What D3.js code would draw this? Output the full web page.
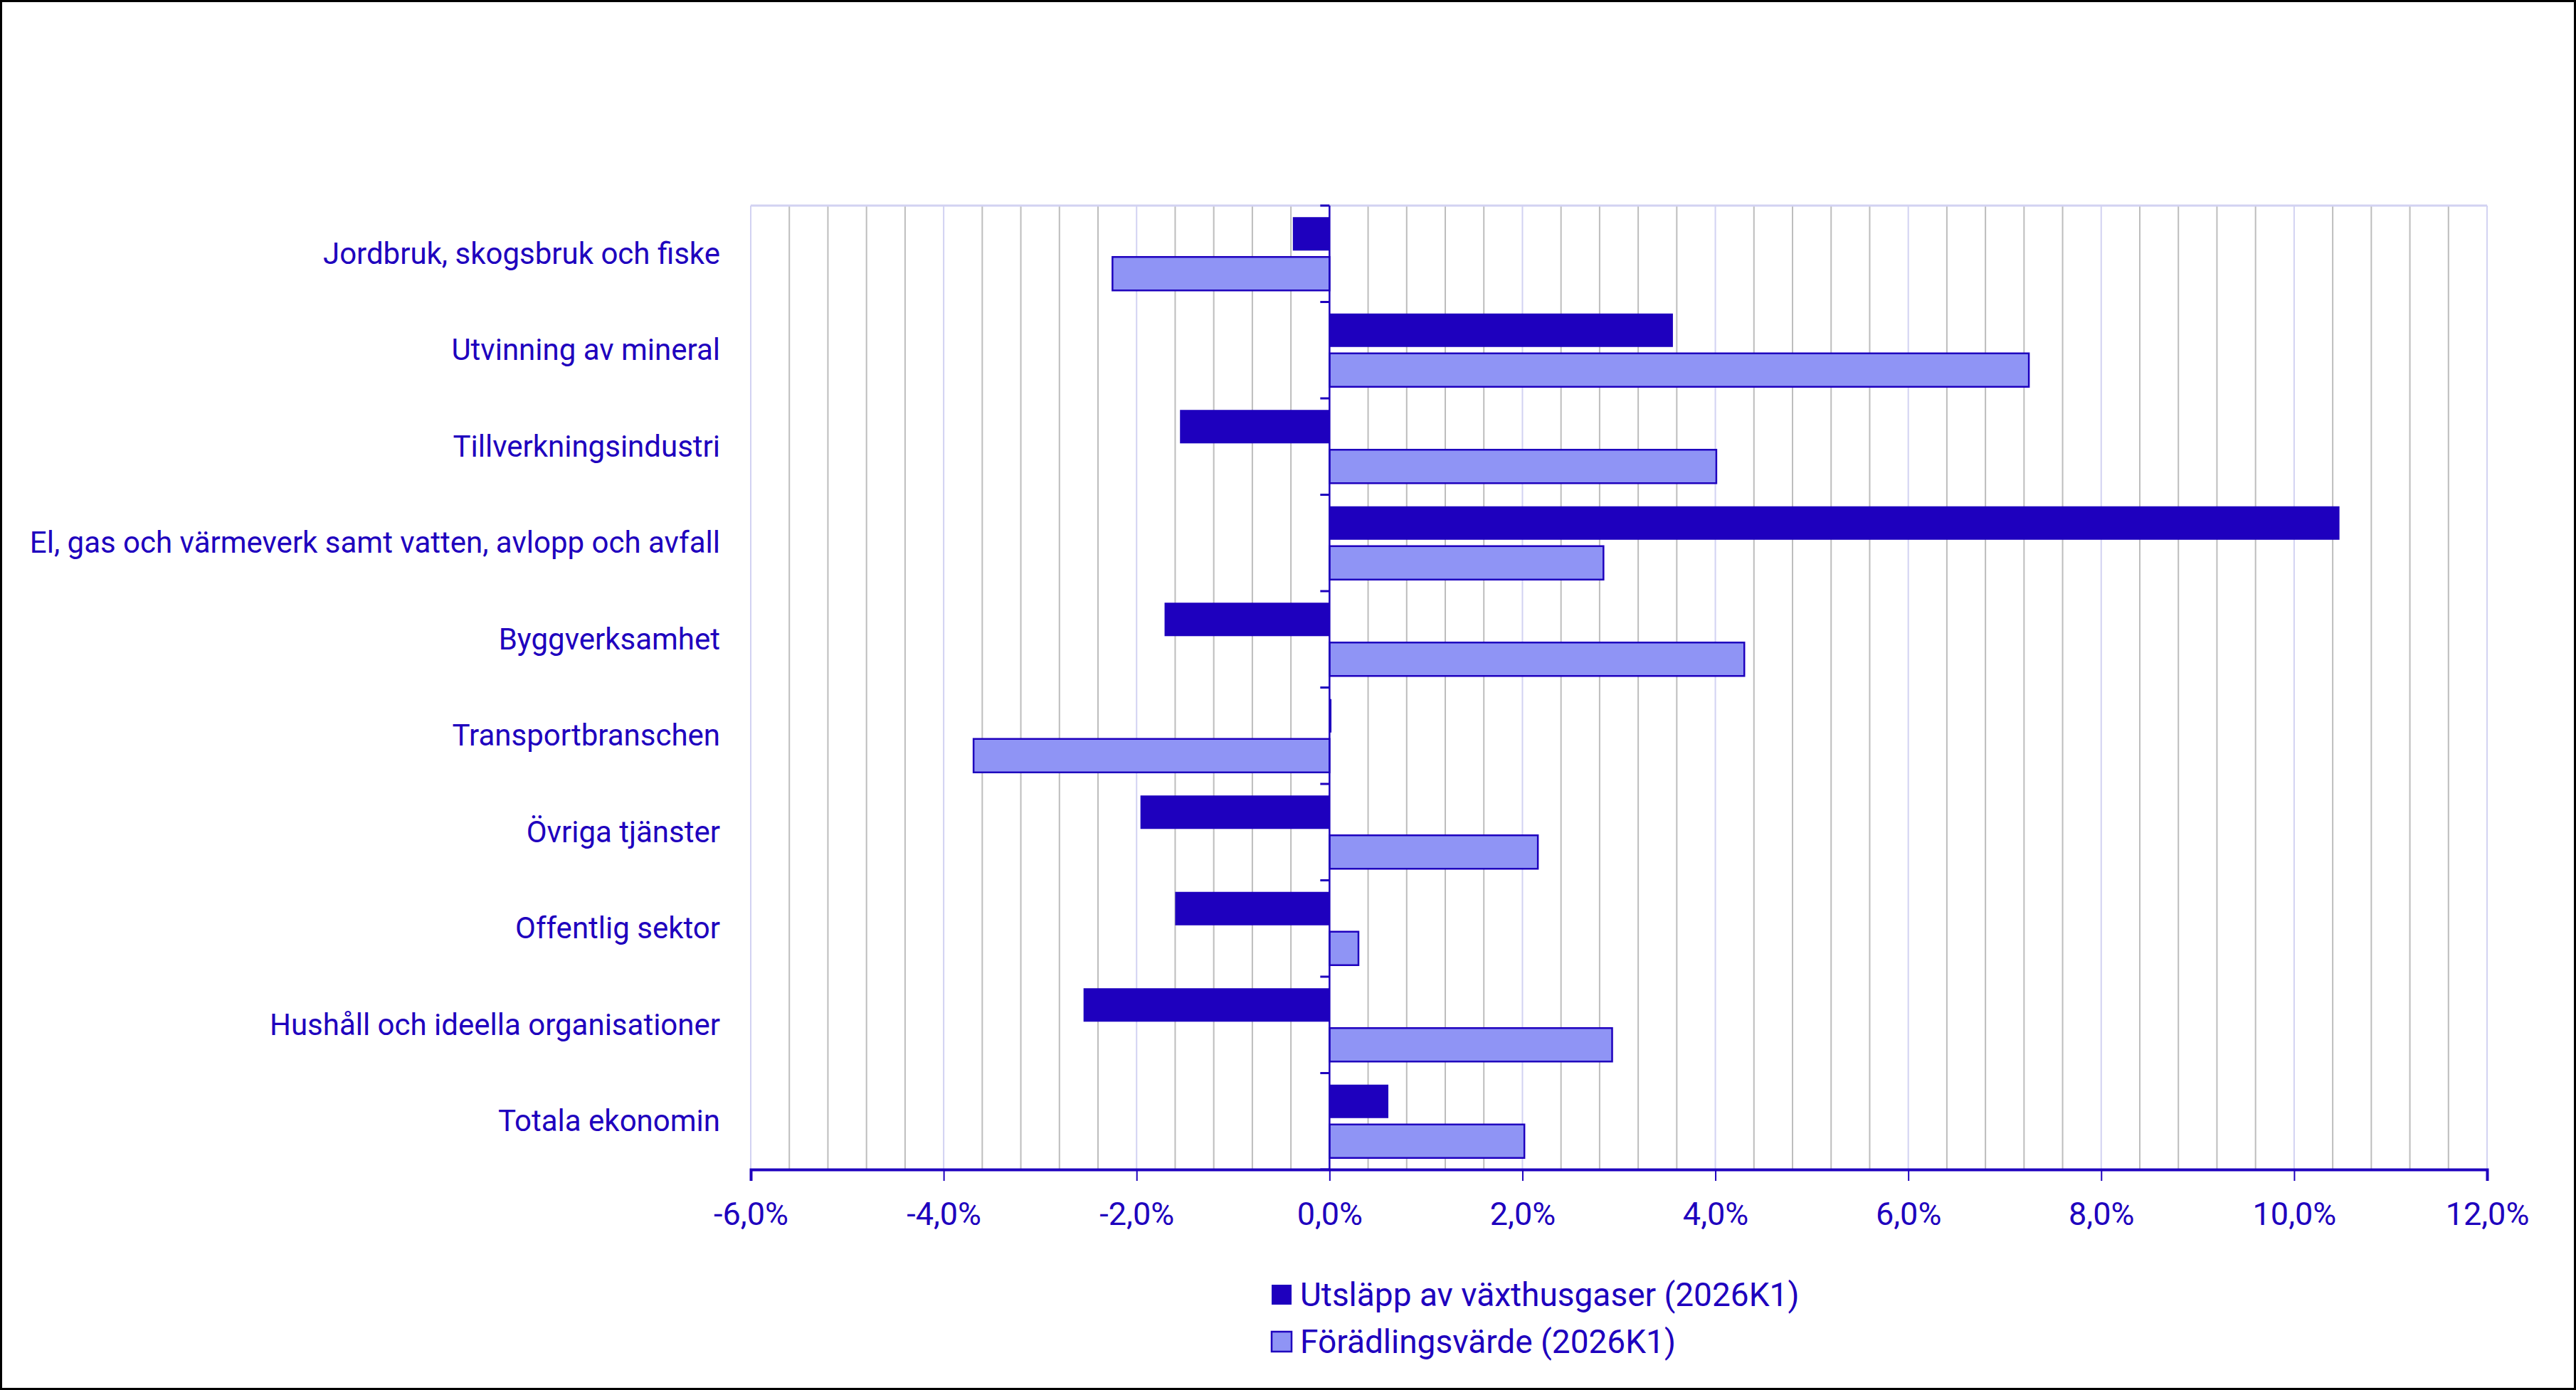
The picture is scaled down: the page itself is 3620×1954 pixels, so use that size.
<!DOCTYPE html>
<html>
<head>
<meta charset="utf-8">
<script src="https://cdn.jsdelivr.net/npm/d3@7"></script>
<style>
  body { margin: 0; background: #fff; }
  svg { display: block; font-family: Roboto, "Noto Sans", sans-serif; }
</style>
</head>
<body>
<svg width="3620" height="1954"></svg>
<script>
// sectors, top to bottom
var categories = [
  "Jordbruk, skogsbruk och fiske",
  "Utvinning av mineral",
  "Tillverkningsindustri",
  "El, gas och värmeverk samt vatten, avlopp och avfall",
  "Byggverksamhet",
  "Transportbranschen",
  "Övriga tjänster",
  "Offentlig sektor",
  "Hushåll och ideella organisationer",
  "Totala ekonomin"
];
var seriesNames = ["Utsläpp av växthusgaser (2026K1)", "Förädlingsvärde (2026K1)"];
// percent change
var emissions = [-0.38, 3.56, -1.55, 10.47, -1.71, 0.02, -1.96, -1.60, -2.55, 0.61];
var valueAdded = [-2.25, 7.25, 4.01, 2.84, 4.30, -3.69, 2.16, 0.30, 2.93, 2.02];
var tickValues = [-6, -4, -2, 0, 2, 4, 6, 8, 10, 12];

var blue = "#1e00be";
var light = "#8f94f5";
var colors = [blue, light];

var svg = d3.select("svg");
var W = 3620, H = 1954;
var plotL = 1055, plotR = 3495, plotT = 289, plotB = 1644;

var x = d3.scaleLinear().domain([-6, 12]).range([plotL, plotR]);
var y = d3.scaleBand().domain(categories).range([plotT, plotB]);
var sub = d3.scaleBand().domain([0, 1]).range([0, y.bandwidth()])
  .paddingInner(0.16).paddingOuter(0.29);

// minor grid every 0.4
var minor = d3.range(-6, 12.001, 0.4).filter(function(d) {
  return Math.abs(Math.round(d / 2) * 2 - d) > 1e-6;
});
svg.append("g").selectAll("line").data(minor).enter().append("line")
  .attr("x1", function(d) { return x(d); }).attr("x2", function(d) { return x(d); })
  .attr("y1", plotT).attr("y2", plotB)
  .attr("stroke", "#bdbdbd").attr("stroke-width", 2);
svg.append("g").selectAll("line").data(tickValues).enter().append("line")
  .attr("x1", function(d) { return x(d); }).attr("x2", function(d) { return x(d); })
  .attr("y1", plotT).attr("y2", plotB)
  .attr("stroke", "#d2d2f2").attr("stroke-width", 2);
svg.append("line").attr("x1", plotL).attr("x2", plotR).attr("y1", plotT).attr("y2", plotT)
  .attr("stroke", "#d2d2f2").attr("stroke-width", 3);

// bars
var rows = categories.map(function(c, i) { return { cat: c, vals: [emissions[i], valueAdded[i]] }; });
var g = svg.append("g").selectAll("g").data(rows).enter().append("g")
  .attr("transform", function(d) { return "translate(0," + y(d.cat) + ")"; });
g.selectAll("rect").data(function(d) { return d.vals; }).enter().append("rect")
  .attr("x", function(v) { return x(Math.min(0, v)); })
  .attr("width", function(v) { return Math.abs(x(v) - x(0)); })
  .attr("y", function(v, i) { return sub(i); })
  .attr("height", sub.bandwidth())
  .attr("fill", function(v, i) { return colors[i]; })
  .attr("stroke", blue)
  .attr("stroke-width", function(v, i) { return i == 1 ? 2.5 : 0; });

// zero line with category ticks
svg.append("line").attr("x1", x(0)).attr("x2", x(0)).attr("y1", plotT).attr("y2", plotB)
  .attr("stroke", blue).attr("stroke-width", 2.5);
var bounds = categories.map(function(c) { return y(c); }).concat([plotB]);
svg.append("g").selectAll("line").data(bounds).enter().append("line")
  .attr("x1", x(0) - 13).attr("x2", x(0)).attr("y1", function(d) { return d; }).attr("y2", function(d) { return d; })
  .attr("stroke", blue).attr("stroke-width", 3);

// category labels
svg.append("g").selectAll("text").data(categories).enter().append("text")
  .attr("x", 1012).attr("y", function(d) { return y(d) + y.bandwidth() / 2; })
  .attr("dy", "0.33em").attr("text-anchor", "end")
  .attr("font-size", 42).attr("fill", blue)
  .text(function(d) { return d; });

// x axis
var xAxis = d3.axisBottom(x).tickValues(tickValues).tickSize(16).tickPadding(30)
  .tickFormat(function(d) { return d.toFixed(1).replace(".", ",") + "%"; });
var ax = svg.append("g").attr("transform", "translate(0," + plotB + ")").call(xAxis);
ax.select(".domain").attr("stroke", blue).attr("stroke-width", 4);
ax.selectAll(".tick line").attr("stroke", blue).attr("stroke-width", 2);
ax.selectAll(".tick text").attr("fill", blue).attr("font-size", 45)
  .attr("font-family", "Roboto, 'Noto Sans', sans-serif");

// legend
var legendY = [1820, 1886];
var lg = svg.append("g").selectAll("g").data(seriesNames).enter().append("g")
  .attr("transform", function(d, i) { return "translate(1787," + legendY[i] + ")"; });
lg.append("rect").attr("x", 0).attr("y", -14).attr("width", 28).attr("height", 28)
  .attr("fill", function(d, i) { return colors[i]; })
  .attr("stroke", blue).attr("stroke-width", function(d, i) { return i == 1 ? 2.5 : 0; });
lg.append("text").attr("x", 40).attr("dy", "0.35em")
  .attr("font-size", 46).attr("fill", blue)
  .text(function(d) { return d; });

// frame
svg.append("rect").attr("x", 1.5).attr("y", 1.5).attr("width", W - 3).attr("height", H - 3)
  .attr("fill", "none").attr("stroke", "#000").attr("stroke-width", 3);
</script>
</body>
</html>
